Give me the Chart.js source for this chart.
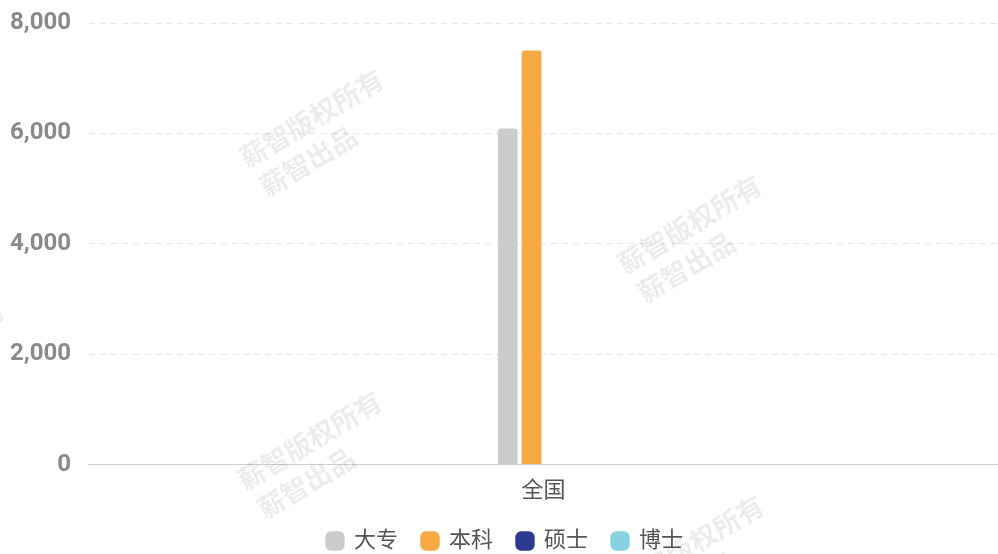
<!DOCTYPE html>
<html>
<head>
<meta charset="utf-8">
<script src="https://cdn.jsdelivr.net/npm/chart.js@4"></script>
<style>
  html, body { margin: 0; padding: 0; background: #fff; }
  #wrap { width: 998px; height: 554px; }
</style>
</head>
<body>
<div id="wrap"><canvas id="trendChart"></canvas></div>
<script>
// DATA
const categories = ["全国"];
const seriesNames = ["大专", "本科", "硕士", "博士"];
const dazhuan = [6090];
const benke = [7500];
const shuoshi = [0];
const boshi = [0];
const yTicks = [0, 2000, 4000, 6000, 8000];

const colors = ["#cccccc", "#f6a843", "#2e3a8f", "#86d3df"];
const font = "Roboto, 'Noto Sans CJK SC', sans-serif";

// watermark text drawn behind the bars
const watermark = {
    id: "watermark",
    beforeDatasetsDraw(chart) {
        const c = chart.ctx;
        const spots = [[244, 163], [622, 269], [242, 485], [624, 589], [-135, 393]];
        c.save();
        c.fillStyle = "rgba(0,0,0,0.075)";
        c.font = "bold 27px " + font;
        c.textAlign = "left";
        spots.forEach(([x, y]) => {
            c.save();
            c.translate(x, y);
            c.rotate(-31 * Math.PI / 180);
            c.fillText("薪智版权所有", 0, 0);
            c.fillText("薪智出品", 2, 35);
            c.restore();
        });
        c.restore();
    }
};

// nudge the legend a little right and up
const legendShift = {
    id: "legendShift",
    afterLayout(chart) {
        const lg = chart.legend;
        if (!lg) return;
        lg.left += 10; lg.right += 10;
        lg.top -= 5; lg.bottom -= 5;
    }
};

const sets = [dazhuan, benke, shuoshi, boshi].map((d, i) => ({
    label: seriesNames[i],
    data: d,
    backgroundColor: colors[i],
    borderRadius: { topLeft: 3, topRight: 3 },
    borderSkipped: "bottom",
    categoryPercentage: 0.105,
    barPercentage: 0.83
}));

const ctx = document.getElementById("trendChart");

new Chart(ctx, {
    type: "bar",
    data: { labels: categories, datasets: sets },
    plugins: [watermark, legendShift],
    options: {
        responsive: true,
        maintainAspectRatio: false,
        animation: false,
        layout: { padding: { top: 0, right: 0, left: -8, bottom: -13 } },
        scales: {
            x: {
                grid: { display: false },
                border: { color: "#cfcfcf", width: 1 },
                ticks: { color: "#555", font: { family: font, size: 22 }, padding: 6 }
            },
            y: {
                min: 0,
                max: 8000,
                afterBuildTicks(axis) { axis.ticks = yTicks.map(v => ({ value: v })); },
                afterFit(axis) { axis.paddingTop = 23; },
                grid: { color: "#e6e6e6", drawTicks: false },
                border: { display: false, dash: [6, 5] },
                ticks: {
                    color: "#8a8a8a",
                    padding: 18,
                    font: { family: font, size: 24, weight: "bold" },
                    callback: v => v.toLocaleString("en-US")
                }
            }
        },
        plugins: {
            legend: {
                position: "bottom",
                labels: {
                    usePointStyle: true,
                    pointStyle: "rectRounded",
                    boxWidth: 16,
                    boxHeight: 16,
                    padding: 24,
                    color: "#555",
                    font: { family: font, size: 22 }
                }
            },
            tooltip: { enabled: false }
        }
    }
});
</script>
</body>
</html>
